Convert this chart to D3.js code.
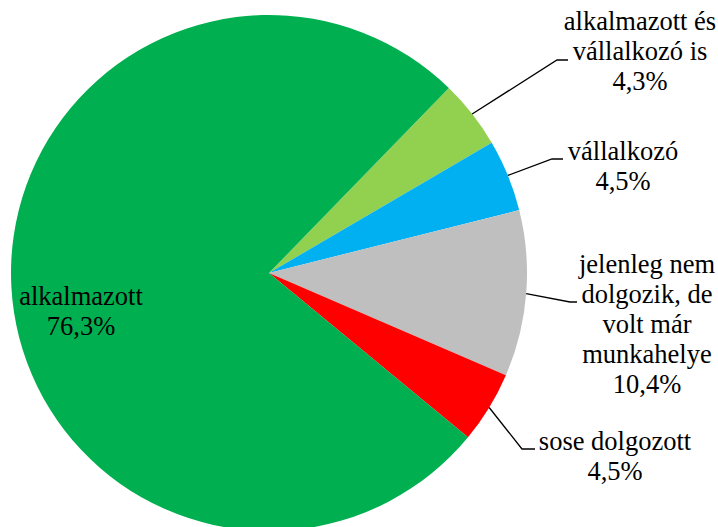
<!DOCTYPE html>
<html>
<head>
<meta charset="utf-8">
<script src="https://cdn.jsdelivr.net/npm/d3@7"></script>
<style>
  html, body { margin: 0; padding: 0; background: #fff; }
  svg { display: block; }
</style>
</head>
<body>
<svg id="chart" width="718" height="527"></svg>
<script>
// ---- data ----
const categories = [
  "alkalmazott és vállalkozó is",
  "vállalkozó",
  "jelenleg nem dolgozik, de volt már munkahelye",
  "sose dolgozott",
  "alkalmazott"
];
const values = [4.3, 4.5, 10.4, 4.5, 76.3];
const labelLines = [
  ["alkalmazott és", "vállalkozó is", "4,3%"],
  ["vállalkozó", "4,5%"],
  ["jelenleg nem", "dolgozik, de", "volt már", "munkahelye", "10,4%"],
  ["sose dolgozott", "4,5%"],
  ["alkalmazott", "76,3%"]
];
const colors = ["#92D050", "#00B0F0", "#BFBFBF", "#FF0000", "#00B050"];

// ---- layout (positions, not data) ----
const cx = 269, cy = 273, radius = 258;
const startAngleDeg = 44.2;
const labelLayout = [
  { x: 640, y: 30, elbow: [557, 60], end: [568, 60], leader: true },
  { x: 623, y: 160, elbow: [552, 159], end: [563, 159], leader: true },
  { x: 647, y: 273, elbow: [570, 302], end: [577, 302], leader: true },
  { x: 615, y: 450, elbow: [522, 449], end: [535, 449], leader: true },
  { x: 81, y: 305, leader: false }
];
const lineHeight = 30;
const fontFamily = "'Liberation Serif', 'Times New Roman', Tinos, Times, 'DejaVu Serif', serif";

const svg = d3.select("#chart");
const g = svg.append("g").attr("transform", `translate(${cx},${cy})`);

const color = d3.scaleOrdinal().domain(categories).range(colors);
const start = startAngleDeg * Math.PI / 180;
const pie = d3.pie().sort(null).value(d => d.v).startAngle(start).endAngle(start + 2 * Math.PI);
const arc = d3.arc().innerRadius(0).outerRadius(radius);

const data = categories.map((c, i) => ({ c, v: values[i], i }));
const arcs = pie(data);

g.selectAll("path.slice").data(arcs).join("path")
  .attr("class", "slice")
  .attr("d", arc)
  .attr("fill", d => color(d.data.c));

// leader lines
arcs.forEach((a, i) => {
  const L = labelLayout[i];
  if (!L.leader) return;
  const mid = (a.startAngle + a.endAngle) / 2;
  const sx = cx + radius * Math.sin(mid);
  const sy = cy - radius * Math.cos(mid);
  svg.append("polyline")
    .attr("points", `${sx},${sy} ${L.elbow[0]},${L.elbow[1]} ${L.end[0]},${L.end[1]}`)
    .attr("fill", "none")
    .attr("stroke", "#000")
    .attr("stroke-width", 1.3);
});

// labels
labelLines.forEach((lines, i) => {
  const L = labelLayout[i];
  const t = svg.append("text")
    .attr("text-anchor", "middle")
    .attr("font-family", fontFamily)
    .attr("font-size", "26.5px")
    .attr("fill", "#000");
  lines.forEach((ln, k) => {
    t.append("tspan").attr("x", L.x).attr("y", L.y + k * lineHeight).text(ln);
  });
});
</script>
</body>
</html>
